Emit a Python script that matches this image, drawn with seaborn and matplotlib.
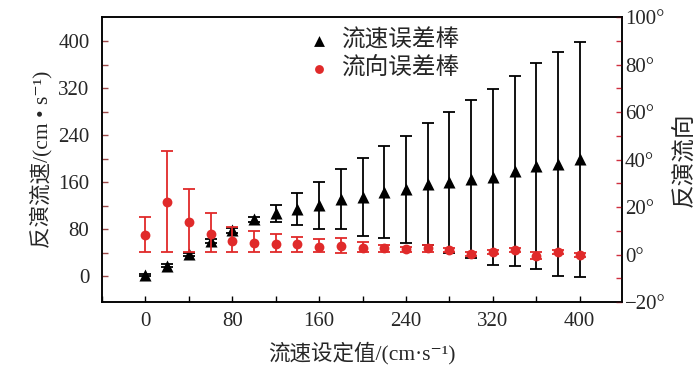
import numpy as np
import pandas as pd
import matplotlib
matplotlib.use('Agg')
import matplotlib.pyplot as plt
import seaborn as sns
from matplotlib.ticker import MultipleLocator, FixedLocator, FuncFormatter

#-----------------------
# Data
#-----------------------
set_speed = [0, 20, 40, 60, 80, 100, 120, 140, 160, 180, 200,
             220, 240, 260, 280, 300, 320, 340, 360, 380, 400]

# retrieved speed (cm/s) and its error bar half-length
speed = [2, 18, 37, 60, 78, 97, 107, 114, 121, 131, 135,
         143, 148, 157, 160, 165, 169, 179, 187, 191, 199]
speed_err = [2, 2, 2, 3, 4, 4, 14, 27, 40, 51, 66,
             78, 91, 104, 120, 134, 150, 162, 175, 190, 200]

# retrieved direction (deg) with asymmetric error bars
direction = [8.2, 22.0, 13.8, 8.6, 5.8, 5.0, 4.3, 4.3, 3.3, 3.6, 2.6,
             2.7, 2.2, 2.6, 1.9, 0.2, 1.2, 1.9, -0.6, 1.2, -0.2]
dir_err_low = [7.2, 21.0, 12.8, 7.6, 4.8, 4.0, 3.3, 3.3, 2.3, 3.0, 1.6,
               1.7, 1.2, 1.5, 1.0, 0.8, 0.8, 1.0, 1.5, 0.8, 0.8]
dir_err_high = [7.7, 21.7, 13.8, 8.9, 5.8, 5.0, 4.2, 3.2, 3.1, 3.3, 2.7,
                1.3, 1.1, 1.5, 1.0, 0.8, 0.8, 1.0, 1.5, 0.8, 0.8]

df = pd.DataFrame({'set': set_speed, 'speed': speed, 'direction': direction})

#-----------------------
# Style
#-----------------------
sns.set_style('ticks')
plt.rcParams['font.family'] = ['Liberation Serif', 'DejaVu Serif', 'Noto Sans CJK SC']
plt.rcParams['axes.linewidth'] = 1.1

red = '#e02a2a'

fig, ax = plt.subplots(figsize=(7, 3.74), dpi=100)
fig.subplots_adjust(left=0.1457, right=0.8886, top=0.9545, bottom=0.1925)
ax2 = ax.twinx()

# speed: black triangles
ax.errorbar(df['set'], df['speed'], yerr=speed_err, fmt='none',
            ecolor='black', elinewidth=1.3, capsize=4.5, capthick=1.3, zorder=2)
sns.scatterplot(data=df, x='set', y='speed', ax=ax, marker='^', s=75,
                color='black', edgecolor='black', linewidth=0, zorder=3,
                label='流速误差棒', legend=False)

# direction: red circles on twin axis
ax2.errorbar(df['set'], df['direction'], yerr=[dir_err_low, dir_err_high], fmt='none',
             ecolor=red, elinewidth=1.3, capsize=4.5, capthick=1.3, zorder=2)
sns.scatterplot(data=df, x='set', y='direction', ax=ax2, marker='o', s=50,
                color=red, edgecolor=red, linewidth=0, zorder=3,
                label='流向误差棒', legend=False)

# axes limits / ticks
ax.set_xlim(-40, 439)
ax.set_ylim(-44, 441)
ax2.set_ylim(-20, 100)

ax.xaxis.set_major_locator(MultipleLocator(80))
ax.xaxis.set_minor_locator(MultipleLocator(40))
ax.yaxis.set_major_locator(FixedLocator([0, 80, 160, 240, 320, 400]))
ax.yaxis.set_minor_locator(FixedLocator([40, 120, 200, 280, 360]))
ax2.yaxis.set_major_locator(MultipleLocator(20))
ax2.yaxis.set_minor_locator(MultipleLocator(10))
ax2.yaxis.set_major_formatter(FuncFormatter(lambda v, p: '%d°' % v if v >= 0 else '\u2212%d°' % -v))

ax.tick_params(axis='x', which='both', direction='in', length=4, width=1,
               color='black', labelsize=15, pad=7)
ax.tick_params(axis='y', which='both', direction='in', length=4, width=1,
               color='#9a4a4a', labelsize=15, pad=9)
ax2.tick_params(axis='y', which='both', direction='in', length=4, width=1,
                color='#d03040', labelsize=15, pad=2)

for a in (ax, ax2):
    for s in a.spines.values():
        s.set_color('black')
        s.set_linewidth(1.1)

ax.set_xlabel('流速设定值/(cm·s\u207b\u00b9)', fontsize=15.5, labelpad=8)
ax.set_ylabel('反演流速/(cm • s\u207b\u00b9)', fontsize=15.5, labelpad=4)
ax2.set_ylabel('反演流向', fontsize=17, labelpad=6)

# legend (no frame)
h1, l1 = ax.get_legend_handles_labels()
h2, l2 = ax2.get_legend_handles_labels()
ax2.legend(h1 + h2, l1 + l2, loc='upper left', bbox_to_anchor=(0.35, 1.03),
           frameon=False, fontsize=17, handletextpad=0.3, labelspacing=0.25,
           handlelength=1.2, markerscale=0.9)

fig.savefig('out.png', dpi=100)
